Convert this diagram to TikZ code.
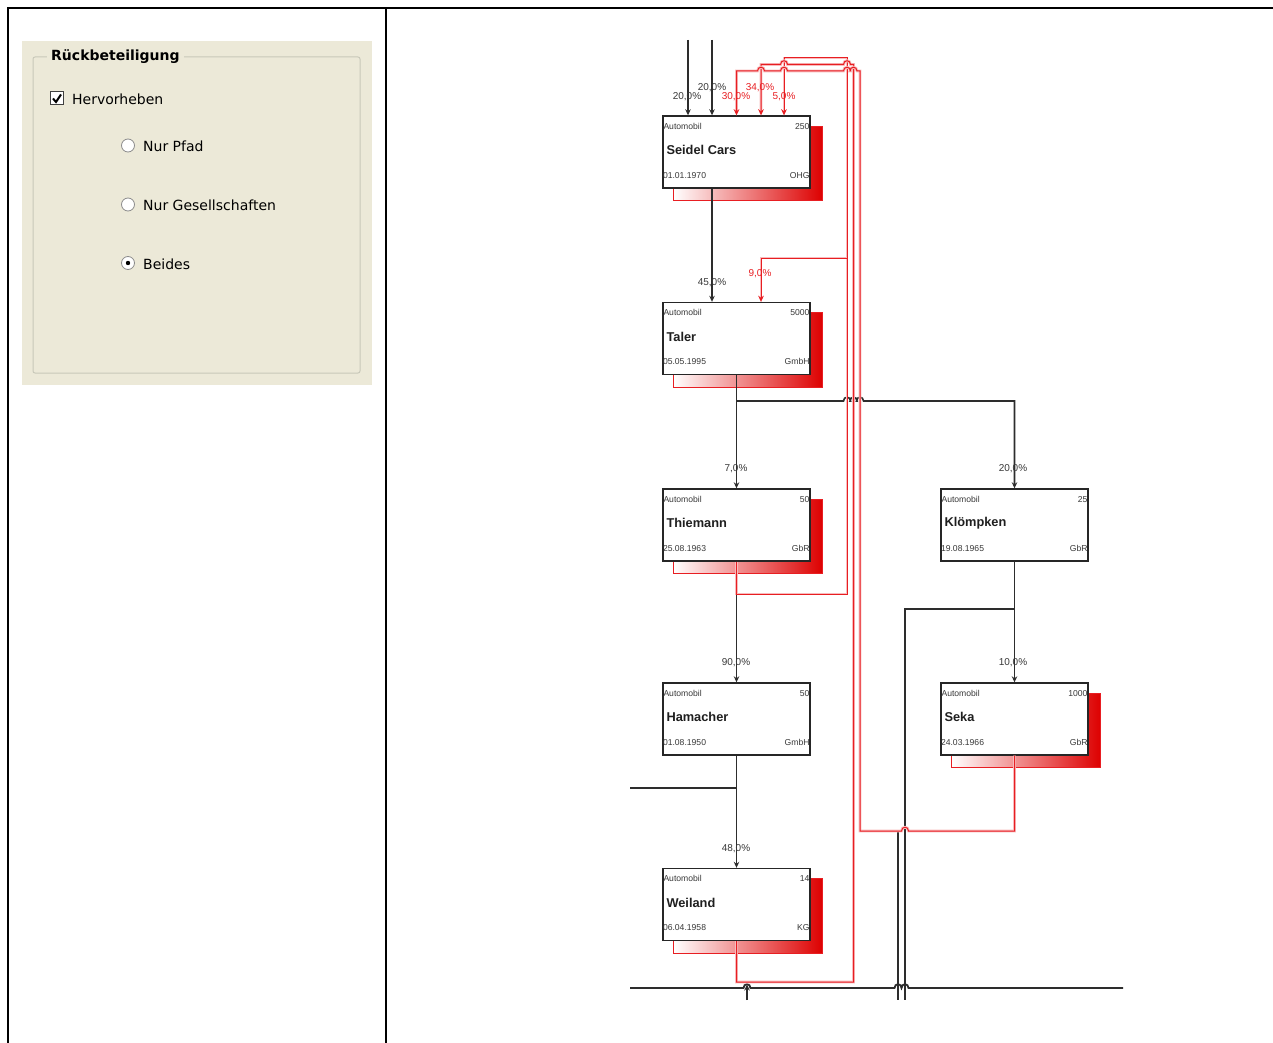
\documentclass[tikz,border=0pt]{standalone}
\usepackage{fontspec}
\setmainfont{Liberation Sans}
\newfontfamily\uifont{DejaVu Sans}
\usetikzlibrary{arrows.meta,calc,backgrounds}
\pgfdeclarelayer{shadowlayer}
\pgfsetlayers{background,shadowlayer,main}

\definecolor{beige}{RGB}{236,233,216}
\definecolor{grpline}{RGB}{200,200,185}
\definecolor{lnk}{RGB}{45,45,45}
\definecolor{rl}{RGB}{232,30,34}
\definecolor{shred}{RGB}{221,0,0}

\tikzset{
  cbox/.style={draw=black!85, line width=1.4pt, fill=white, minimum width=147pt, minimum height=72pt, inner sep=0pt},
  small/.style={font=\fontsize{8.6}{9}\selectfont, text=black!78, inner sep=0pt},
  cname/.style={font=\bfseries\fontsize{12.8}{13}\selectfont, text=black!88, inner sep=0pt},
  pct/.style={font=\fontsize{10}{11}\selectfont, text=black!78, inner sep=0pt},
  rpct/.style={pct, text=rl},
  bl/.style={draw=lnk, line width=1.6pt},
  rd/.style={draw=rl, line width=1pt, preaction={draw=rl!30, line width=2.8pt}},
  tip/.style={-{Stealth[length=6pt,width=5.5pt]}},
  shadow/.style={left color=white, right color=shred, draw=rl, line width=0.8pt},
  ui/.style={font=\uifont\fontsize{14}{16}\selectfont, text=black, inner sep=0pt, anchor=west},
  radio/.style={fill=white, draw=black!45, line width=0.8pt},
}

% hops: rightward and leftward
\newcommand\jr[2]{-- (#1-3.5,#2) .. controls (#1-3.5,#2-5) and (#1+3.5,#2-5) .. (#1+3.5,#2)}
\newcommand\jl[2]{-- (#1+3.5,#2) .. controls (#1+3.5,#2-5) and (#1-3.5,#2-5) .. (#1-3.5,#2)}

% firm box: name, x, y, number, title, date, form
\newcommand\firm[7]{%
  \node[cbox] (#1) at (#2,#3) {};
  \node[small,anchor=west] (#1-a) at ($(#1.north west)+(1,11)$) {Automobil};
  \node[small,anchor=east] (#1-n) at ($(#1.north east)+(-1,11)$) {#4};
  \node[cname,anchor=west] (#1-t) at ($(#1.north west)+(4,35)$) {#5};
  \node[small,anchor=west] (#1-d) at ($(#1.north west)+(0.5,60)$) {#6};
  \node[small,anchor=east] (#1-f) at ($(#1.north east)+(-1,60)$) {#7};
}
\newcommand\shadowof[1]{%
  \begin{pgfonlayer}{shadowlayer}
    \shadedraw[shadow] ($(#1.north west)+(11,11)$) rectangle ($(#1.south east)+(12,12)$);
  \end{pgfonlayer}}

\begin{document}
\begin{tikzpicture}[x=1pt,y=-1pt]
\useasboundingbox (0,0) rectangle (1273,1043);
\begin{pgfonlayer}{background}
\fill[white] (0,0) rectangle (1273,1043);
\end{pgfonlayer}

% frame
\draw[black, line width=2pt] (8,1043) -- (8,8) -- (1273,8);
\draw[black, line width=2pt] (386,8) -- (386,1043);

% ---------- left panel ----------
\fill[beige] (22,41) rectangle (372,385);
\draw[grpline, line width=1pt, rounded corners=2pt] (33,57) rectangle (360,373);
\node[ui, font=\uifont\bfseries\fontsize{14}{16}\selectfont, fill=beige, inner xsep=4pt] (title) at (47,57) {Rückbeteiligung};
\node[fill=white, draw=black!75, line width=1pt, minimum size=13pt, inner sep=0pt] (chk) at (57,98.5) {};
\draw[black, line width=2pt] ($(chk.center)+(-4,0)$) -- ($(chk.center)+(-1,3.5)$) -- ($(chk.center)+(4,-4)$);
\node[ui] (herv) at (72,99) {Hervorheben};
\draw[radio] (128,145.5) circle (6.5);
\node[ui] (pfad) at (143,146) {Nur Pfad};
\draw[radio] (128,204.5) circle (6.5);
\node[ui] (gesell) at (143,205) {Nur Gesellschaften};
\draw[radio] (128,263) circle (6.5);
\fill[black] (128,263) circle (2.2);
\node[ui] (beides) at (143,264) {Beides};

% ---------- firms ----------
\firm{seidel}{736.5}{152}{250}{Seidel Cars}{01.01.1970}{OHG}
\firm{taler}{736.5}{338.5}{5000}{Taler}{05.05.1995}{GmbH}
\firm{thiemann}{736.5}{525}{50}{Thiemann}{25.08.1963}{GbR}
\firm{klompken}{1014.5}{525}{25}{Klömpken}{19.08.1965}{GbR}
\firm{hamacher}{736.5}{719}{50}{Hamacher}{01.08.1950}{GmbH}
\firm{seka}{1014.5}{719}{1000}{Seka}{24.03.1966}{GbR}
\firm{weiland}{736.5}{904.5}{14}{Weiland}{06.04.1958}{KG}

\shadowof{seidel}
\shadowof{taler}
\shadowof{thiemann}
\shadowof{seka}
\shadowof{weiland}

% ---------- black connectors ----------
\coordinate (in1) at (688,40);
\coordinate (in2) at (712,40);
\draw[bl,tip] (in1) -- ($(seidel.north)+(-48.5,0)$);
\draw[bl,tip] (in2) -- ($(seidel.north)+(-24.5,0)$);
\draw[bl,tip] ($(seidel.south)+(-24.5,0)$) -- ($(taler.north)+(-24.5,0)$);
\draw[bl,tip] (taler.south) -- (thiemann.north);
\draw[bl,tip] (736.5,401) \jr{847}{401} \jr{853.5}{401} \jr{860}{401} -- (1014.5,401) -- (klompken.north);
\draw[bl,tip] (thiemann.south) -- (hamacher.north);
\draw[bl,tip] (klompken.south) -- (seka.north);
\draw[bl,tip] (hamacher.south) -- (weiland.north);
\coordinate (hamleft) at (630,788);
\draw[bl] (736.5,788) -- (hamleft);
\coordinate (klbot) at (905,1000);
\draw[bl] (1014.5,609) -- (905,609) -- (klbot);
\coordinate (b898) at (898,1000);
\draw[bl] (898,831) -- (b898);
\coordinate (bl1) at (630,988);
\coordinate (bl2) at (1123,988);
\draw[bl, line width=1.8pt] (bl1) \jr{747}{988} \jr{898}{988} \jr{905}{988} -- (bl2);
\coordinate (up1) at (747,1000);
\draw[bl,tip] (up1) -- (747,984.5);

% ---------- red connectors ----------
\draw[rd,tip] (thiemann.south) -- (736.5,594) -- (847,594) -- (847,58) -- (784,58) -- ($(seidel.north)+(47.5,0)$);
\draw[rd,tip] (847,258) -- (761,258) -- ($(taler.north)+(24.5,0)$);
\draw[rd,tip] (weiland.south) -- (736.5,982) -- (853.5,982) -- (853.5,64.5) \jl{847}{64.5} \jl{784}{64.5} -- (761,64.5) -- ($(seidel.north)+(24.5,0)$);
\draw[rd,tip] (seka.south) -- (1014.5,831) \jl{905}{831} -- (860,831) -- (860,71) \jl{853.5}{71} \jl{847}{71} \jl{784}{71} \jl{761}{71} -- (736.5,71) -- (seidel.north);

% ---------- percentages ----------
\node[pct] (p1) at (687,97) {20,0\%};
\node[pct] (p2) at (712,88) {20,0\%};
\node[rpct] (p3) at (736,97) {30,0\%};
\node[rpct] (p4) at (760,88) {34,0\%};
\node[rpct] (p5) at (784,97) {5,0\%};
\node[pct] (p6) at (712,283) {45,0\%};
\node[rpct] (p7) at (760,274) {9,0\%};
\node[pct] (p8) at (736,469) {7,0\%};
\node[pct] (p9) at (1013,469) {20,0\%};
\node[pct] (p10) at (736,663) {90,0\%};
\node[pct] (p11) at (1013,663) {10,0\%};
\node[pct] (p12) at (736,849) {48,0\%};
\end{tikzpicture}
\end{document}
